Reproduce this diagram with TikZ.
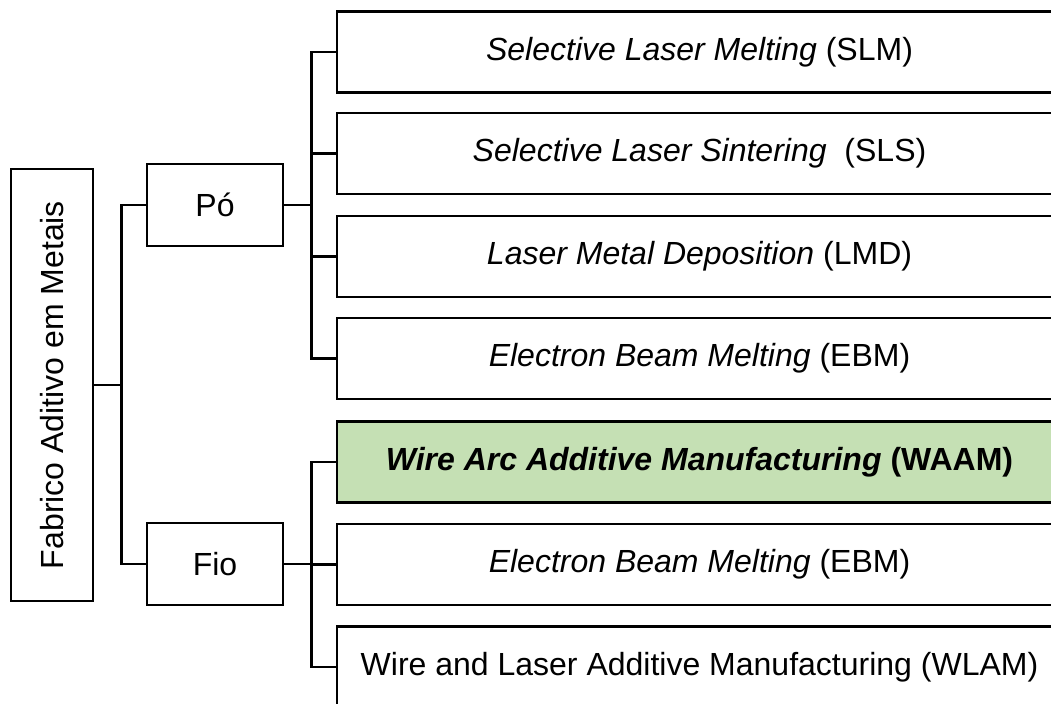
\documentclass[tikz,border=0pt]{standalone}
\usepackage{fontspec}
\setmainfont{Liberation Sans}
\definecolor{waamgreen}{HTML}{C5E0B4}
\begin{document}
\begin{tikzpicture}[x=0.75pt,y=-0.75pt,
  box/.style={draw=black,line width=1.9pt,fill=white,inner sep=0pt,font=\fontsize{24}{28}\selectfont},
  cat/.style={box,minimum width=136*0.75pt,minimum height=82*0.75pt},
  proc/.style={box,minimum width=725*0.75pt,minimum height=81*0.75pt},
  link/.style={line width=1.9pt,line join=miter}]
\useasboundingbox (0,0) rectangle (1051,704);
\clip (0,0) rectangle (1051,704);
\fill[white] (0,0) rectangle (1051,704);
\node[box,rotate=90,minimum width=432*0.75pt,minimum height=82*0.75pt] (main) at (52,385) {Fabrico Aditivo em Metais};
\node[cat] (po) at (215,205) {Pó};
\node[cat] (fio) at (215,564) {Fio};
\node[proc] (b1) at (699.5,52) {\textit{Selective Laser Melting} (SLM)};
\node[proc] (b2) at (699.5,153.5) {\textit{Selective Laser Sintering}\ \ (SLS)};
\node[proc] (b3) at (699.5,256.5) {\textit{Laser Metal Deposition} (LMD)};
\node[proc] (b4) at (699.5,358.5) {\textit{Electron Beam Melting} (EBM)};
\node[proc,fill=waamgreen] (b5) at (699.5,462) {\bfseries\textit{Wire Arc Additive Manufacturing} (WAAM)};
\node[proc] (b6) at (699.5,564.5) {\textit{Electron Beam Melting} (EBM)};
\node[proc] (b7) at (699.5,667) {Wire and Laser Additive Manufacturing (WLAM)};
\draw[link] (main.south) -- ++(27,0) |- (po.west);
\draw[link] (main.south) -- ++(27,0) |- (fio.west);
\foreach \b in {b1,b2,b3,b4} \draw[link] (po.east) -- ++(27,0) |- (\b.west);
\foreach \b in {b5,b6,b7} \draw[link] (fio.east) -- ++(27,0) |- (\b.west);
\end{tikzpicture}
\end{document}
